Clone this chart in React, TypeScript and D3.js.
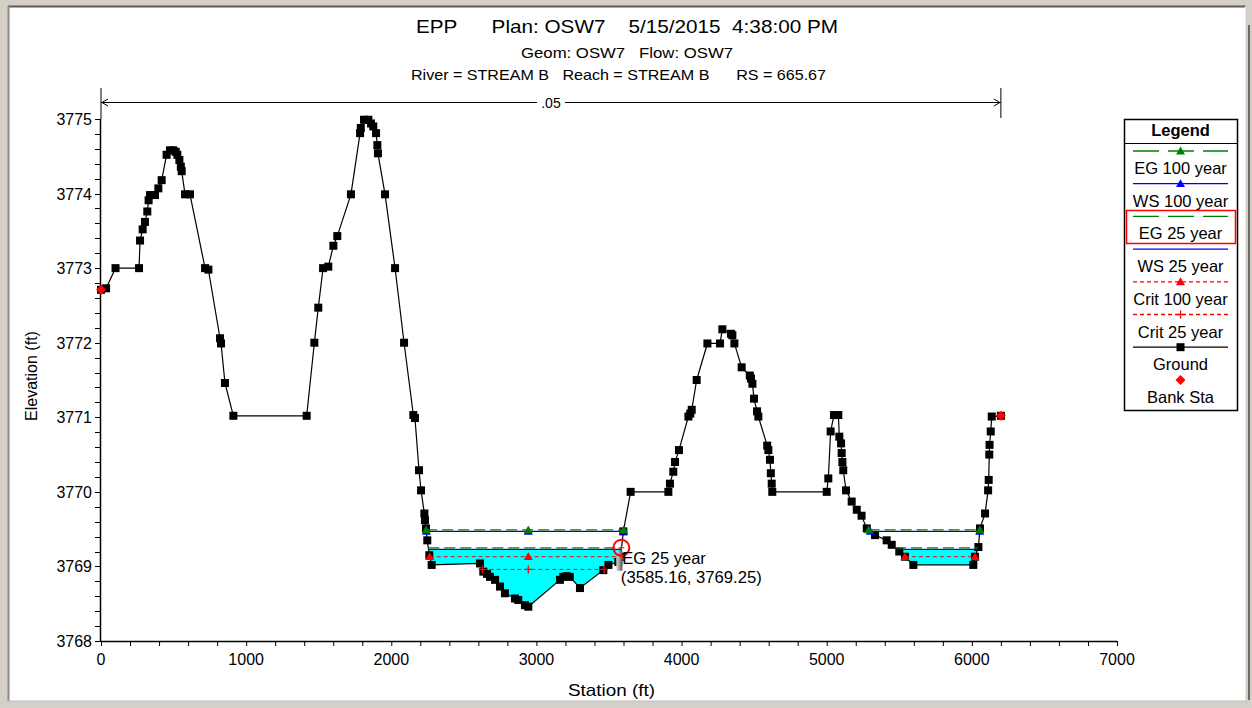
import React from 'react';
import * as d3 from 'd3';

// ---------------- Data ----------------
const titleLine1 = 'EPP      Plan: OSW7    5/15/2015  4:38:00 PM';
const titleLine2 = 'Geom: OSW7   Flow: OSW7';
const titleLine3 = 'River = STREAM B   Reach = STREAM B      RS = 665.67';

const groundStation = [
  0, 35, 100, 262, 269, 287, 303, 319, 328, 338, 372, 395, 418, 452, 475, 498, 515, 526, 540, 550, 556,
  579, 613, 717, 740, 820, 827, 854, 912, 1417, 1470, 1497, 1530, 1566, 1601, 1628, 1722, 1785, 1790,
  1812, 1842, 1860, 1876, 1895, 1904, 1908, 1957, 2026, 2088, 2152, 2163, 2191, 2205, 2228, 2232, 2239,
  2248, 2262, 2278, 2611, 2634, 2660, 2680, 2715, 2749, 2783, 2852, 2875, 2921, 2944, 3162, 3185, 3208,
  3230, 3300, 3461, 3496, 3564, 3579, 3599, 3649, 3909, 3920, 3943, 3955, 3982, 4047, 4060, 4070, 4104,
  4178, 4265, 4281, 4340, 4350, 4364, 4414, 4470, 4478, 4488, 4499, 4520, 4529, 4590, 4598, 4609, 4615,
  4621, 4625, 5000, 5011, 5027, 5050, 5080, 5087, 5099, 5103, 5108, 5114, 5133, 5172, 5207, 5240, 5276,
  5333, 5413, 5448, 5500, 5539, 5597, 6010, 6022, 6045, 6056, 6091, 6112, 6116, 6120, 6122, 6130, 6137,
  6200,
];
const groundElev = [
  3772.71, 3772.73, 3773.0, 3773.0, 3773.37, 3773.52, 3773.62, 3773.76, 3773.91, 3773.98, 3773.98, 3774.07,
  3774.18, 3774.52, 3774.58, 3774.58, 3774.56, 3774.52, 3774.45, 3774.36, 3774.3, 3773.99, 3773.99, 3773.0,
  3772.98, 3772.06, 3771.99, 3771.46, 3771.02, 3771.02, 3772.0, 3772.47, 3773.0, 3773.02, 3773.3, 3773.43,
  3773.99, 3774.81, 3774.88, 3774.99, 3774.99, 3774.94, 3774.9, 3774.81, 3774.65, 3774.54, 3773.99, 3773.0,
  3772.0, 3771.03, 3770.99, 3770.29, 3770.02, 3769.71, 3769.62, 3769.51, 3769.35, 3769.15, 3769.02, 3769.04,
  3768.93, 3768.9, 3768.86, 3768.82, 3768.73, 3768.64, 3768.57, 3768.55, 3768.48, 3768.46, 3768.82, 3768.86,
  3768.87, 3768.86, 3768.71, 3768.95, 3769.02, 3769.06, 3769.13, 3769.47, 3770.0, 3770.0, 3770.11, 3770.27,
  3770.4, 3770.56, 3771.01, 3771.05, 3771.1, 3771.5, 3771.99, 3771.99, 3772.18, 3772.12, 3772.1, 3771.99,
  3771.67, 3771.56, 3771.52, 3771.45, 3771.25, 3771.08, 3771.01, 3770.62, 3770.56, 3770.43, 3770.25, 3770.11,
  3770.0, 3770.0, 3770.18, 3770.81, 3771.03, 3771.03, 3770.74, 3770.65, 3770.52, 3770.4, 3770.29, 3770.02,
  3769.87, 3769.76, 3769.68, 3769.51, 3769.42, 3769.35, 3769.29, 3769.2, 3769.13, 3769.02, 3769.02, 3769.13,
  3769.26, 3769.51, 3769.71, 3770.02, 3770.16, 3770.5, 3770.63, 3770.81, 3771.01, 3771.02,
];

const bankStation = [0, 6200];
const bankElev = [3772.71, 3771.02];

const profileNames = ['EG 100 year', 'WS 100 year', 'EG 25 year', 'WS 25 year', 'Crit 100 year', 'Crit 25 year'];
const profileElev = [3769.49, 3769.47, 3769.25, 3769.23, 3769.13, 3768.96];

const xTicks = [0, 1000, 2000, 3000, 4000, 5000, 6000, 7000];
const yTicks = [3768, 3769, 3770, 3771, 3772, 3773, 3774, 3775];

const manningLabel = '.05';
const manningRange = [0, 6200];

const pickName = 'EG 25 year';
const pickStation = 3585.16;
const pickElev = 3769.25;

// ---------------- Layout ----------------
const W = 1252;
const H = 708;
const x = d3.scaleLinear().domain([0, 7000]).range([101, 1117]);
const y = d3.scaleLinear().domain([3768, 3775]).range([641, 119]);

const FONT = '"Liberation Sans", Arial, sans-serif';
const GREEN = '#008000';
const BLUE = '#0000ff';
const RED = '#ff0000';

const ground = groundStation.map((s, i) => ({ s, e: groundElev[i] }));
const thalweg = ground.reduce((a, b) => (b.e < a.e ? b : a));

function segmentsBelow(level: number) {
  const segs: [number, number][] = [];
  let start: number | null = null;
  for (let i = 0; i < ground.length - 1; i++) {
    const a = ground[i];
    const b = ground[i + 1];
    const aBelow = a.e < level;
    const bBelow = b.e < level;
    if (i === 0 && aBelow) start = a.s;
    if (!aBelow && bBelow) {
      start = a.s + ((level - a.e) / (b.e - a.e)) * (b.s - a.s);
    } else if (aBelow && !bBelow && start !== null) {
      const end = a.s + ((level - a.e) / (b.e - a.e)) * (b.s - a.s);
      segs.push([start, end]);
      start = null;
    }
  }
  return segs;
}

function markerStations(seg: [number, number]) {
  const list = [seg[0], seg[1]];
  if (thalweg.s > seg[0] && thalweg.s < seg[1]) list.push(thalweg.s);
  return list;
}

const tri = (cx: number, cy: number, r = 4.5) =>
  `M${cx},${cy - r}L${cx + r},${cy + r * 0.75}L${cx - r},${cy + r * 0.75}Z`;

function ProfileLine({ level, color, dash, marker, width = 1.3 }: any) {
  const segs = segmentsBelow(level);
  return (
    <g>
      {segs.map((sg, i) => (
        <g key={i}>
          <line x1={x(sg[0])} x2={x(sg[1])} y1={y(level)} y2={y(level)} stroke={color} strokeWidth={width} strokeDasharray={dash} />
          {marker &&
            markerStations(sg).map((s, j) =>
              marker === 'tri' ? (
                <path key={j} d={tri(x(s), y(level))} fill={color} />
              ) : (
                <g key={j} stroke={color} strokeWidth={1.3}>
                  <line x1={x(s) - 4} x2={x(s) + 4} y1={y(level)} y2={y(level)} />
                  <line x1={x(s)} x2={x(s)} y1={y(level) - 4} y2={y(level) + 4} />
                </g>
              )
            )}
        </g>
      ))}
    </g>
  );
}

export default function App() {
  const groundLine = d3.line<{ s: number; e: number }>().x((d) => x(d.s)).y((d) => y(d.e))(ground) as string;
  const aboveGround =
    groundLine + `L${x(groundStation[groundStation.length - 1])},${y(3775)}L${x(groundStation[0])},${y(3775)}Z`;

  const xMinor = d3.range(0, 7001, 200);
  const yMinor = d3.range(0, 36).map((i) => 3768 + i * 0.2);

  const ws25 = profileElev[3];

  const legendItems = [
    { label: profileNames[0], color: GREEN, dash: '26,9', marker: 'tri' },
    { label: profileNames[1], color: BLUE, dash: undefined, marker: 'tri' },
    { label: profileNames[2], color: GREEN, dash: '26,9', marker: null },
    { label: profileNames[3], color: BLUE, dash: undefined, marker: null },
    { label: profileNames[4], color: RED, dash: '4,3', marker: 'tri' },
    { label: profileNames[5], color: RED, dash: '4,3', marker: 'plus' },
    { label: 'Ground', color: '#000', dash: undefined, marker: 'sq' },
    { label: 'Bank Sta', color: RED, dash: null, marker: 'diamond' },
  ];
  const lgX0 = 1124;
  const lgX1 = 1237;
  const lgCx = (lgX0 + lgX1) / 2;

  return (
    <svg width={W} height={H} style={{ position: 'absolute', left: 0, top: 0, display: 'block' }} fontFamily={FONT}>
      {/* window frame */}
      <rect x={0} y={0} width={W} height={H} fill="#d4d0c8" />
      <rect x={8} y={6} width={1238} height={695} fill="#fff" />
      <line x1={8} x2={1246} y1={6.5} y2={6.5} stroke="#5a5a5a" strokeWidth={2} />
      <line x1={8.5} x2={8.5} y1={6} y2={701} stroke="#8a8a8a" strokeWidth={2} />
      <line x1={1245.5} x2={1245.5} y1={6} y2={701} stroke="#e8e8e8" strokeWidth={1} />
      <line x1={1249} x2={1249} y1={25} y2={700} stroke="#6a6a6a" strokeWidth={2} />
      <line x1={8} x2={1246} y1={701} y2={701} stroke="#bdbdbd" strokeWidth={1} />

      {/* titles */}
      <text x={416} y={33} fontSize={18.5} textLength={422} lengthAdjust="spacingAndGlyphs" style={{ whiteSpace: 'pre' }}>{titleLine1}</text>
      <text x={521} y={57.5} fontSize={14.5} textLength={212} lengthAdjust="spacingAndGlyphs" style={{ whiteSpace: 'pre' }}>{titleLine2}</text>
      <text x={411} y={79.5} fontSize={14.5} textLength={415} lengthAdjust="spacingAndGlyphs" style={{ whiteSpace: 'pre' }}>{titleLine3}</text>

      {/* Manning n bracket */}
      <g stroke="#000" strokeWidth={1}>
        <line x1={x(manningRange[0])} x2={x(manningRange[0])} y1={88} y2={y(3775)} />
        <line x1={x(manningRange[1])} x2={x(manningRange[1])} y1={88} y2={118} />
        <line x1={x(manningRange[0])} x2={(x(manningRange[0]) + x(manningRange[1])) / 2 - 14} y1={102.5} y2={102.5} />
        <line x1={(x(manningRange[0]) + x(manningRange[1])) / 2 + 14} x2={x(manningRange[1])} y1={102.5} y2={102.5} />
        <path d={`M${x(manningRange[0]) + 7},${99}L${x(manningRange[0]) + 1},${102.5}L${x(manningRange[0]) + 7},${106}`} fill="none" />
        <path d={`M${x(manningRange[1]) - 7},${99}L${x(manningRange[1]) - 1},${102.5}L${x(manningRange[1]) - 7},${106}`} fill="none" />
      </g>
      <text x={(x(manningRange[0]) + x(manningRange[1])) / 2} y={108} textAnchor="middle" fontSize={14}>{manningLabel}</text>

      {/* axes */}
      <g stroke="#000" strokeWidth={1}>
        <line x1={x(0)} x2={x(7000)} y1={641.5} y2={641.5} strokeWidth={1.5} />
        <line x1={100.5} x2={100.5} y1={y(3768)} y2={y(3775)} strokeWidth={1.5} />
        {xMinor.map((v) => (
          <line key={v} x1={x(v) + 0.5} x2={x(v) + 0.5} y1={641} y2={646} />
        ))}
        {yMinor.map((v, i) => (
          <line key={i} x1={95} x2={101} y1={Math.round(y(v)) + 0.5} y2={Math.round(y(v)) + 0.5} />
        ))}
      </g>
      {xTicks.map((v) => (
        <text key={v} x={x(v)} y={665} textAnchor="middle" fontSize={16}>{v}</text>
      ))}
      {yTicks.map((v) => (
        <text key={v} x={92} y={y(v) + 6} textAnchor="end" fontSize={16}>{v}</text>
      ))}
      <text x={568} y={696} fontSize={16.5} textLength={87} lengthAdjust="spacingAndGlyphs">Station (ft)</text>
      <text transform={`translate(37,376) rotate(-90)`} textAnchor="middle" fontSize={16}>Elevation (ft)</text>

      {/* water fill for WS 25 year */}
      <defs>
        <clipPath id="aboveGround">
          <path d={aboveGround} />
        </clipPath>
      </defs>
      <rect x={x(0)} y={y(ws25)} width={x(7000) - x(0)} height={y(3768) - y(ws25)} fill="#00ffff" clipPath="url(#aboveGround)" />

      {/* ground */}
      <path d={groundLine} fill="none" stroke="#000" strokeWidth={1.2} />
      {ground.map((d, i) => (
        <rect key={i} x={x(d.s) - 4} y={y(d.e) - 4} width={8} height={8} fill="#000" />
      ))}

      {/* profiles */}
      <ProfileLine level={profileElev[3]} color={BLUE} />
      <ProfileLine level={profileElev[2]} color={GREEN} dash="11,5" />
      <ProfileLine level={profileElev[1]} color={BLUE} marker="tri" />
      <ProfileLine level={profileElev[0]} color={GREEN} dash="11,5" marker="tri" />
      <ProfileLine level={profileElev[5]} color={RED} dash="4,3" marker="plus" width={1} />
      <ProfileLine level={profileElev[4]} color={RED} dash="4,3" marker="tri" width={1} />

      {/* bank stations */}
      {bankStation.map((s, i) => (
        <path key={i} d={`M${x(s)},${y(bankElev[i]) - 5}L${x(s) + 5},${y(bankElev[i])}L${x(s)},${y(bankElev[i]) + 5}L${x(s) - 5},${y(bankElev[i])}Z`} fill={RED} />
      ))}

      {/* pick annotation */}
      <defs>
        <linearGradient id="cur" x1="0" x2="1">
          <stop offset="0" stopColor="#e0e0e0" />
          <stop offset="1" stopColor="#555" />
        </linearGradient>
      </defs>
      <rect x={x(pickStation) - 5} y={y(pickElev) + 3} width={6} height={20} fill="url(#cur)" />
      <circle cx={x(pickStation)} cy={y(pickElev)} r={8} fill="none" stroke={RED} strokeWidth={2} />
      <line x1={x(pickStation)} x2={x(pickStation)} y1={y(pickElev) - 3} y2={y(pickElev) + 3} stroke={RED} />
      <line x1={x(pickStation) - 3} x2={x(pickStation) + 3} y1={y(pickElev)} y2={y(pickElev)} stroke={RED} />
      <text x={x(pickStation) + 1} y={y(pickElev) + 16} fontSize={16.5}>{pickName}</text>
      <text x={x(pickStation) - 0.5} y={y(pickElev) + 35} fontSize={16.5} textLength={141} lengthAdjust="spacingAndGlyphs">{`(${pickStation.toFixed(2)}, ${pickElev.toFixed(2)})`}</text>

      {/* legend */}
      <rect x={lgX0 + 0.5} y={119.5} width={lgX1 - lgX0} height={291} fill="#fff" stroke="#000" strokeWidth={1.5} />
      <line x1={lgX0} x2={lgX1} y1={143.5} y2={143.5} stroke="#000" strokeWidth={1.2} />
      <text x={lgCx} y={136} textAnchor="middle" fontSize={16.5} fontWeight="bold">Legend</text>
      <rect x={1126.5} y={210.5} width={109} height={33} fill="none" stroke={RED} strokeWidth={1.5} />
      {legendItems.map((it, i) => {
        const ly = 151 + i * 32.7;
        return (
          <g key={i}>
            {it.dash !== null && (
              <line x1={1133} x2={1228} y1={ly} y2={ly} stroke={it.color} strokeWidth={1.3} strokeDasharray={it.dash} />
            )}
            {it.marker === 'tri' && <path d={tri(lgCx, ly, 4.5)} fill={it.color} />}
            {it.marker === 'plus' && (
              <g stroke={it.color} strokeWidth={1.3}>
                <line x1={lgCx - 4} x2={lgCx + 4} y1={ly} y2={ly} />
                <line x1={lgCx} x2={lgCx} y1={ly - 4} y2={ly + 4} />
              </g>
            )}
            {it.marker === 'sq' && <rect x={lgCx - 4} y={ly - 4} width={8} height={8} fill="#000" />}
            {it.marker === 'diamond' && (
              <path d={`M${lgCx},${ly - 5}L${lgCx + 5},${ly}L${lgCx},${ly + 5}L${lgCx - 5},${ly}Z`} fill={RED} />
            )}
            <text x={lgCx} y={ly + 23} textAnchor="middle" fontSize={16.5}>{it.label}</text>
          </g>
        );
      })}
    </svg>
  );
}
